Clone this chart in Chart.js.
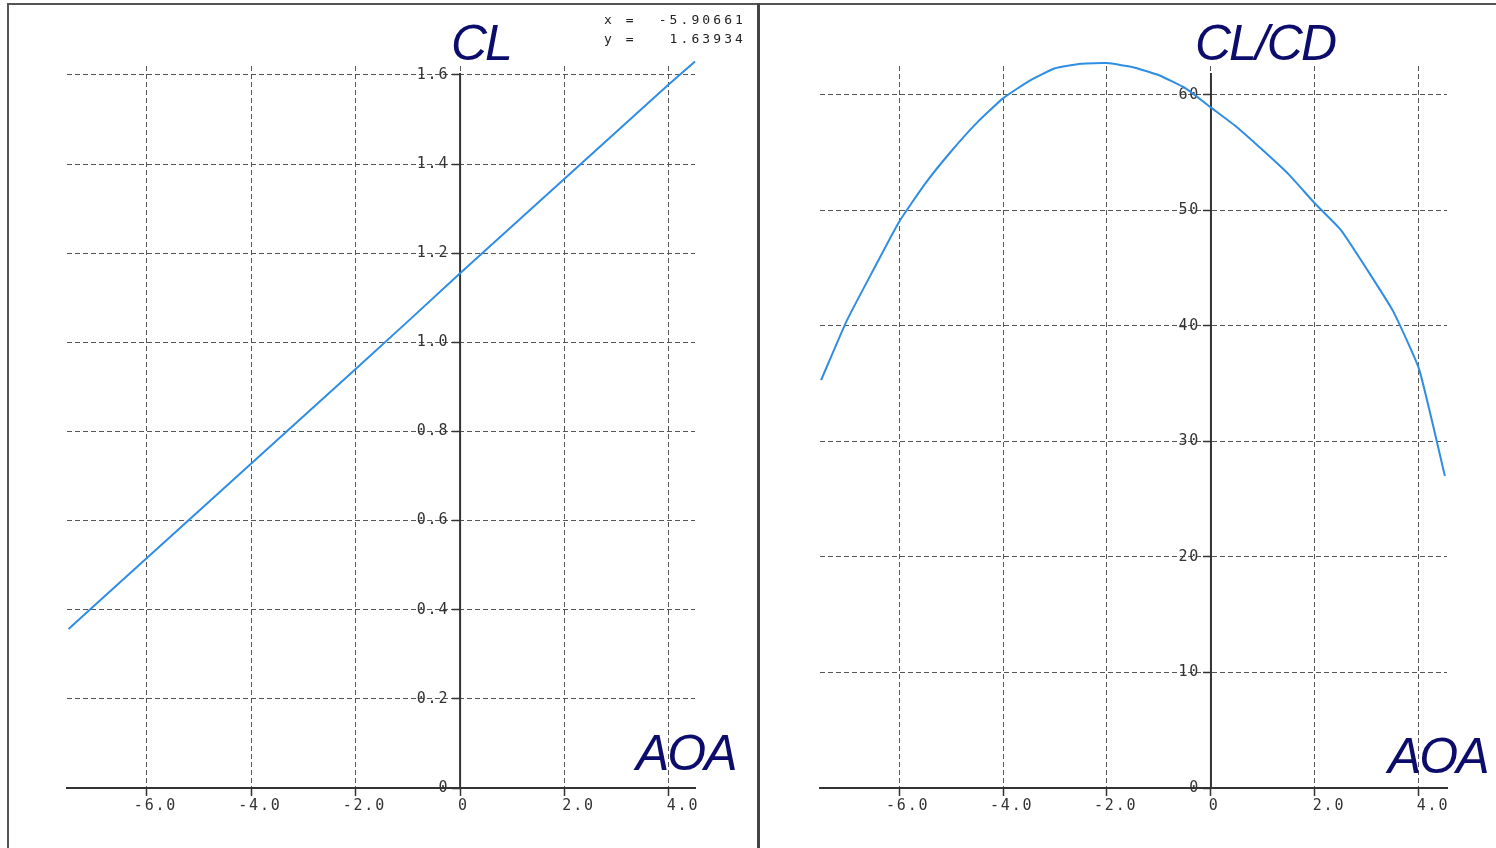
<!DOCTYPE html>
<html>
<head>
<meta charset="utf-8">
<script src="https://cdn.jsdelivr.net/npm/chart.js@4"></script>
<style>
  html, body { margin: 0; padding: 0; background: #fff; }
  body { width: 1496px; height: 848px; position: relative; overflow: hidden; }
  .moldura { position: absolute; left: 7px; top: 3px; right: 0; bottom: 0; border-top: 2px solid #555; border-left: 2px solid #555; }
  .divisor { position: absolute; left: 757px; top: 3px; width: 3px; bottom: 0; background: #444; }
  canvas { position: absolute; top: 5px; }
  #graficoCL { left: 10px; }
  #graficoCLCD { left: 760px; }
  .rotulo { position: absolute; font: italic 50px "Liberation Sans", Arial, sans-serif; line-height: 50px; letter-spacing: -2px; color: #0c0c6c; white-space: nowrap; }
  .leitura { position: absolute; left: 604px; top: 10px; margin: 0; font: 13px "DejaVu Sans Mono", monospace; letter-spacing: 3.1px; line-height: 19.4px; color: #222; white-space: pre; }
</style>
</head>
<body>
<div class="moldura"></div>
<div class="divisor"></div>

<canvas id="graficoCL" width="747" height="843"></canvas>
<canvas id="graficoCLCD" width="736" height="843"></canvas>

<div class="rotulo" style="left:451px; top:18px;">CL</div>
<div class="rotulo" style="left:1195px; top:18px;">CL/CD</div>
<div class="rotulo" style="left:636px; top:728px;">AOA</div>
<div class="rotulo" style="left:1388px; top:731px;">AOA</div>
<pre class="leitura">x =  -5.90661
y =   1.63934</pre>

<script>
// angulo de ataque (graus) e CL
const aoaCL = [-7.5, -7, -6, -5, -4, -3, -2, -1, 0, 1, 2, 3, 4, 4.5]
const valoresCL = [0.357, 0.410, 0.516, 0.622, 0.728, 0.834, 0.940, 1.047, 1.155, 1.261, 1.367, 1.473, 1.579, 1.630]

// CL/CD
const aoaCLCD = [-7.5, -7, -6.5, -6, -5.5, -5, -4.5, -4, -3.5, -3, -2.5, -2, -1.5, -1, -0.5, 0, 0.5, 1, 1.5, 2, 2.5, 3, 3.5, 4, 4.5]
const valoresCLCD = [35.3, 40.5, 44.8, 49.0, 52.3, 55.1, 57.6, 59.7, 61.2, 62.3, 62.7, 62.75, 62.4, 61.7, 60.6, 58.9, 57.2, 55.2, 53.1, 50.6, 48.3, 44.9, 41.3, 36.3, 27.0]

const ticksX = [-6, -4, -2, 0, 2, 4]
const ticksYCL = [0, 0.2, 0.4, 0.6, 0.8, 1.0, 1.2, 1.4, 1.6]
const ticksYCLCD = [0, 10, 20, 30, 40, 50, 60]

const fonteEixo = { family: '"DejaVu Sans Mono", monospace', size: 15 }

const eixoY = {
    id: 'eixoY',
    beforeDraw: (chart) => {
        chart.ctx.letterSpacing = '1.8px'
    },
    beforeDatasetsDraw: (chart) => {
        const { ctx, chartArea, scales } = chart
        const px = scales.x.getPixelForValue(0)
        ctx.save()
        ctx.strokeStyle = '#333'
        ctx.lineWidth = 2
        ctx.beginPath()
        ctx.moveTo(px, chartArea.top + 7)
        ctx.lineTo(px, scales.y.getPixelForValue(0) + 1)
        ctx.stroke()
        ctx.restore()
    }
}

const grafico = (id, xs, ys, limX, limY, ticksY, formatoY, curva, padding) => {
    new Chart(document.getElementById(id), {
        type: 'line',
        data: {
            datasets: [{
                data: xs.map((x, i) => ({ x: x, y: ys[i] })),
                borderColor: '#2f8de4',
                borderWidth: 2,
                pointRadius: 0,
                tension: curva,
                clip: false
            }]
        },
        options: {
            responsive: false,
            animation: false,
            events: [],
            layout: { padding: padding },
            plugins: {
                legend: { display: false },
                tooltip: { enabled: false }
            },
            scales: {
                x: {
                    type: 'linear',
                    position: { y: 0 },
                    min: limX[0],
                    max: limX[1],
                    afterBuildTicks: (s) => { s.ticks = ticksX.map(v => ({ value: v })) },
                    grid: { color: '#555', lineWidth: 1, tickLength: 7, tickColor: '#333', tickWidth: 1.5 },
                    border: { display: true, color: '#333', width: 2, dash: [5, 3] },
                    ticks: {
                        font: fonteEixo, color: '#333', padding: 2, maxRotation: 0,
                        align: 'start', labelOffset: -13,
                        callback: (v) => v < 0 ? v.toFixed(1) : ' ' + (v === 0 ? '0' : v.toFixed(1))
                    }
                },
                y: {
                    type: 'linear',
                    position: { x: 0 },
                    min: limY[0],
                    max: limY[1],
                    afterBuildTicks: (s) => { s.ticks = ticksY.map(v => ({ value: v })) },
                    grid: { color: '#555', lineWidth: 1, tickLength: 8, tickColor: '#333', tickWidth: 1.5 },
                    border: { display: false, dash: [5, 3] },
                    ticks: {
                        font: fonteEixo, color: '#333',
                        callback: (v) => formatoY(v) + ' '
                    }
                }
            }
        },
        plugins: [eixoY]
    })
}

grafico('graficoCL', aoaCL, valoresCL, [-7.53, 4.5], [0, 1.62], ticksYCL,
    (v) => v === 0 ? '0' : v.toFixed(1), 0,
    { left: 57, right: 62, top: 61, bottom: 60 })

grafico('graficoCLCD', aoaCLCD, valoresCLCD, [-7.52, 4.54], [0, 62.5], ticksYCLCD,
    (v) => String(v), 0.15,
    { left: 60, right: 49, top: 61, bottom: 60 })
</script>
</body>
</html>
